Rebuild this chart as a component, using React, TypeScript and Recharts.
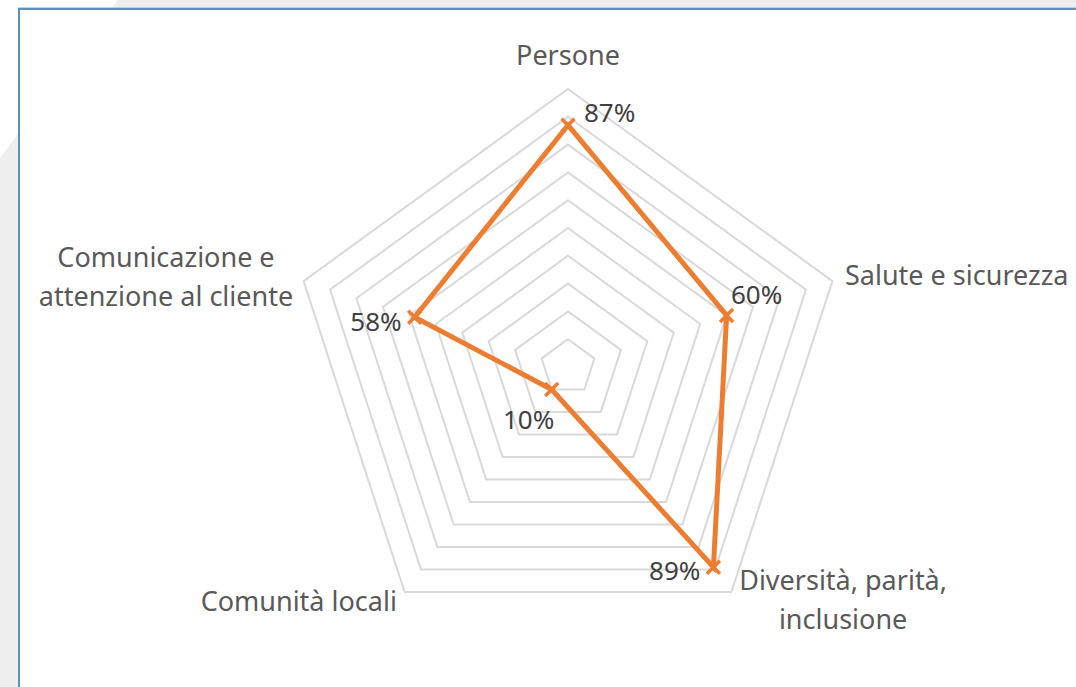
import { PolarAngleAxis, PolarGrid, PolarRadiusAxis, Radar, RadarChart } from "recharts";

const categories = [
  "Persone",
  "Salute e sicurezza",
  "Diversità, parità, inclusione",
  "Comunità locali",
  "Comunicazione e attenzione al cliente",
];

const categoryLines = [
  ["Persone"],
  ["Salute e sicurezza"],
  ["Diversità, parità,", "inclusione"],
  ["Comunità locali"],
  ["Comunicazione e", "attenzione al cliente"],
];

const values = [0.87, 0.6, 0.89, 0.1, 0.58];

const valueLabels = ["87%", "60%", "89%", "10%", "58%"];

const radiusTicks = [0.1, 0.2, 0.3, 0.4, 0.5, 0.6, 0.7, 0.8, 0.9, 1];

const data = categories.map((name, i) => ({ name, value: values[i] }));

const ORANGE = "#ED7D31";
const FONT = "'Noto Sans', sans-serif";
const OUTER_RADIUS = 278;

// per-category placement of the axis labels, relative to the tick anchor
const tickLayout = [
  { dx: 0, dy: -16, anchor: "middle" },
  { dx: 5, dy: 6, anchor: "start" },
  { dx: 107, dy: -8, anchor: "middle" },
  { dx: -3, dy: 13, anchor: "end" },
  { dx: -130, dy: -12, anchor: "middle" },
];

// per-point placement of the value labels, relative to the marker
const labelLayout = [
  { dx: 16, dy: -3, anchor: "start" },
  { dx: 30, dy: -11, anchor: "middle" },
  { dx: -13, dy: 13, anchor: "end" },
  { dx: -23, dy: 40, anchor: "middle" },
  { dx: -13, dy: 14, anchor: "end" },
];

const AngleTick = (props: any) => {
  const { x, y, payload } = props;
  const i = categories.indexOf(payload.value);
  const lay = tickLayout[i];
  const lines = categoryLines[i];
  return (
    <text
      x={x + lay.dx}
      y={y + lay.dy}
      textAnchor={lay.anchor}
      fill="#595959"
      fontSize={27}
      fontFamily={FONT}
    >
      {lines.map((line, k) => (
        <tspan key={k} x={x + lay.dx} dy={k === 0 ? 0 : 39}>
          {line}
        </tspan>
      ))}
    </text>
  );
};

const CrossDot = (props: any) => {
  const { cx, cy, index } = props;
  const lay = labelLayout[index];
  const s = 6.5;
  return (
    <g key={`dot-${index}`}>
      <line x1={cx - s} y1={cy - s} x2={cx + s} y2={cy + s} stroke={ORANGE} strokeWidth={3.5} />
      <line x1={cx - s} y1={cy + s} x2={cx + s} y2={cy - s} stroke={ORANGE} strokeWidth={3.5} />
      <text
        x={cx + lay.dx}
        y={cy + lay.dy}
        textAnchor={lay.anchor}
        fill="#404040"
        fontSize={26}
        fontFamily={FONT}
      >
        {valueLabels[index]}
      </text>
    </g>
  );
};

export default function App() {
  return (
    <div
      style={{
        position: "absolute",
        left: 0,
        top: 0,
        width: 1076,
        height: 687,
        overflow: "hidden",
        background: "#eeeeee",
      }}
    >
      <div
        style={{
          position: "absolute",
          left: 0,
          top: 0,
          width: 118,
          height: 158,
          background: "#ffffff",
          clipPath: "polygon(0 0, 100% 0, 0 100%)",
        }}
      />
      <div
        style={{
          position: "absolute",
          left: 18,
          top: 8,
          width: 1100,
          height: 720,
          background: "#ffffff",
          borderLeft: "2px solid #5e90bb",
          borderTop: "2px solid #5e90bb",
          boxShadow: "0 -1px 0 #b9d5ea",
        }}
      />
      <div style={{ position: "absolute", left: 0, top: 0 }}>
        <RadarChart width={1076} height={687} data={data} cx={568} cy={367} outerRadius={OUTER_RADIUS}>
          <PolarGrid
            radialLines={false}
            stroke="#d9d9d9"
            strokeWidth={2}
            polarRadius={radiusTicks.map((t) => t * OUTER_RADIUS)}
          />
          <PolarAngleAxis dataKey="name" tick={<AngleTick />} tickLine={false} axisLine={false} />
          <PolarRadiusAxis domain={[0, 1]} tickCount={11} tick={false} axisLine={false} />
          <Radar
            dataKey="value"
            stroke={ORANGE}
            strokeWidth={5}
            fill="none"
            fillOpacity={0}
            dot={CrossDot}
            isAnimationActive={false}
          />
        </RadarChart>
      </div>
    </div>
  );
}
